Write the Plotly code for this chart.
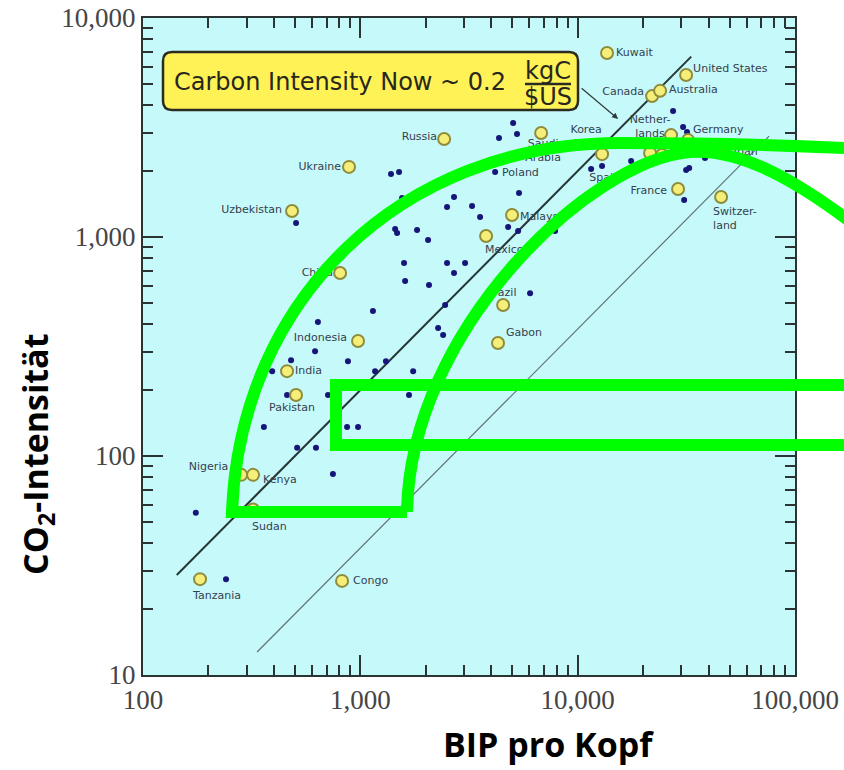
"""
Carbon intensity vs. GDP per capita (log-log), with the green overlay mark.
"""

import numpy as np
import plotly.graph_objects as go


# ---- data ----
# countries drawn as yellow circles
highlight_names = ["Kuwait", "United States", "Canada", "Australia", "Netherlands", "Germany",
                   "Japan", "Korea", "Spain", "Italy", "Saudi Arabia", "Russia", "Ukraine",
                   "Uzbekistan", "Malaysia", "Mexico", "China", "Brazil", "Gabon", "Indonesia",
                   "India", "Pakistan", "Nigeria", "Kenya", "Sudan", "Tanzania", "Congo",
                   "France", "Switzerland"]
highlight_gdp = [13650, 31550, 22000, 23950, 26900, 32200,
                 44260, 12950, 21530, 24430, 6790, 2430, 887,
                 485, 4990, 3790, 807, 4540, 4300, 976,
                 460, 506, 283, 321, 321, 183, 824,
                 28970, 45700]
highlight_co2 = [6920, 5490, 4400, 4650, 2920, 2770,
                 2470, 2390, 2420, 2370, 2985, 2800, 2090,
                 1315, 1260, 1010, 685, 489, 328, 335,
                 244, 190, 82, 82, 57, 27.4, 26.9,
                 1657, 1523]

# small blue dots that carry a label
labelled_dot_names = ["Poland"]
labelled_dot_gdp = [4170]
labelled_dot_co2 = [1980]

# the remaining unlabelled blue dots
other_gdp = [506, 1384, 1507, 1556, 2698, 2506, 3266, 3556, 1446, 1476,
             1824, 2050, 1589, 2506, 3034, 2698, 1607, 2070, 5047, 5260,
             4346, 5372, 4786, 5321, 7870, 6040, 1143, 638, 2455, 2280,
             2404, 619, 480, 877, 1312, 393, 1169, 1750, 460, 710,
             1675, 301, 360, 869, 976, 512, 625, 748, 175, 241,
             27480, 30550, 31850, 17620, 11530, 12950, 31550, 32590, 30900, 38550]
other_co2 = [1159, 1941, 1982, 1507, 1523, 1371, 1386, 1233, 1089, 1042,
             1076, 969, 760, 760, 760, 685, 630, 604, 3319, 2951,
             2831, 1589, 1112, 1064, 1064, 554, 459, 409, 489, 384,
             357, 301, 274, 271, 271, 244, 244, 244, 190, 190,
             190, 135.5, 135.5, 135.5, 135.5, 109, 109, 82.8, 55, 27.4,
             3758, 3177, 3013, 2223, 2046, 2107, 2023, 2066, 1476, 2296]

# reference lines: CO2 = intensity * GDP
now_line_gdp = [143, 33300]
now_intensity = 0.2
low_line_gdp = [335, 76000]
low_intensity = 0.038

x_tick_vals = [100, 1000, 10000, 100000]
x_tick_text = ["100", "1,000", "10,000", "100,000"]
y_tick_vals = [10, 100, 1000, 10000]
y_tick_text = ["10", "100", "1,000", "10,000"]


# ---- page geometry ----
W, H = 844, 770
M_L, M_R, M_T, M_B = 143, 49, 18, 95
PLOT_W = W - M_L - M_R
PLOT_H = H - M_T - M_B
DEC_X = PLOT_W / 3.0   # pixels per decade
DEC_Y = PLOT_H / 3.0

GREEN = "#00ff00"
LABEL_FONT = dict(family="DejaVu Sans", size=11, color="#34414f")

# label placement: text, side of the point, pixel offset (dx right, dy down)
label_layout = {
    "Kuwait": ("Kuwait", "right", 9, 0),
    "United States": ("United States", "right", 7, -6),
    "Canada": ("Canada", "left", -8, -4),
    "Australia": ("Australia", "right", 9, -1),
    "Netherlands": ("Nether-<br>lands", "center", -21, -8),
    "Germany": ("Germany", "right", 5, -10),
    "Japan": ("Japan", "right", 9, 1),
    "Korea": ("Korea<br>Rep.", "center", -16, -17),
    "Spain": ("Spain", "left", -30, 25),
    "Saudi Arabia": ("Saudi<br>Arabia", "center", 2, 18),
    "Russia": ("Russia", "left", -7, -2),
    "Ukraine": ("Ukraine", "left", -8, 0),
    "Uzbekistan": ("Uzbekistan", "left", -10, -1),
    "Poland": ("Poland", "right", 7, 1),
    "Malaysia": ("Malaysia", "right", 8, 2),
    "Mexico": ("Mexico", "right", -1, 14),
    "China": ("China", "left", -7, 0),
    "Brazil": ("Brazil", "center", -2, -12),
    "Gabon": ("Gabon", "right", 8, -10),
    "Indonesia": ("Indonesia", "left", -11, -3),
    "India": ("India", "right", 8, 0),
    "Pakistan": ("Pakistan", "center", -4, 13),
    "Nigeria": ("Nigeria", "left", -13, -8),
    "Kenya": ("Kenya", "right", 10, 5),
    "Sudan": ("Sudan", "right", -1, 18),
    "Tanzania": ("Tanzania", "right", -7, 17),
    "Congo": ("Congo", "right", 11, 0),
    "France": ("France", "left", -11, 2),
    "Switzerland": ("Switzer-<br>land", "right", -8, 22),
}
SIDE_TO_POS = {"right": "middle right", "left": "middle left", "center": "middle center"}


def to_paper(px, py):
    """Page pixel -> paper coordinates."""
    return (px - M_L) / PLOT_W, (H - M_B - py) / PLOT_H


def svg_path(cmds):
    """Build a paper-coordinate SVG path from (command, [pixel points]) pairs."""
    parts = []
    for cmd, pts in cmds:
        coords = []
        for px, py in pts:
            x, y = to_paper(px, py)
            coords.append(f"{x:.4f},{y:.4f}")
        parts.append(cmd + " " + " ".join(coords))
    return " ".join(parts)


def rounded_box(x0, y0, x1, y1, r):
    return svg_path([
        ("M", [(x0 + r, y0)]), ("L", [(x1 - r, y0)]), ("Q", [(x1, y0), (x1, y0 + r)]),
        ("L", [(x1, y1 - r)]), ("Q", [(x1, y1), (x1 - r, y1)]),
        ("L", [(x0 + r, y1)]), ("Q", [(x0, y1), (x0, y1 - r)]),
        ("L", [(x0, y0 + r)]), ("Q", [(x0, y0), (x0 + r, y0)]), ("Z", []),
    ])


fig = go.Figure()

# reference lines
now_gdp = np.array(now_line_gdp, dtype=float)
low_gdp = np.array(low_line_gdp, dtype=float)
fig.add_trace(go.Scatter(x=now_gdp, y=now_intensity * now_gdp, mode="lines",
                         line=dict(color="#263636", width=2), hoverinfo="skip"))
fig.add_trace(go.Scatter(x=low_gdp, y=low_intensity * low_gdp, mode="lines",
                         line=dict(color="#5f7272", width=1.2), hoverinfo="skip"))

# points
fig.add_trace(go.Scatter(x=other_gdp + labelled_dot_gdp, y=other_co2 + labelled_dot_co2,
                         mode="markers",
                         marker=dict(size=6, color="#15157a"), hoverinfo="skip"))
fig.add_trace(go.Scatter(x=highlight_gdp, y=highlight_co2, mode="markers",
                         marker=dict(size=12, color="#f5ef7a",
                                     line=dict(color="#8f8c3c", width=2)),
                         text=highlight_names, hoverinfo="text"))

# country labels
all_names = highlight_names + labelled_dot_names
all_gdp = highlight_gdp + labelled_dot_gdp
all_co2 = highlight_co2 + labelled_dot_co2
for side in ["right", "left", "center"]:
    lx, ly, lt = [], [], []
    for name, g, c in zip(all_names, all_gdp, all_co2):
        if name not in label_layout:
            continue
        text, s, dx, dy = label_layout[name]
        if s != side:
            continue
        lx.append(g * 10 ** (dx / DEC_X))
        ly.append(c * 10 ** (-dy / DEC_Y))
        lt.append(text)
    fig.add_trace(go.Scatter(x=lx, y=ly, mode="text", text=lt,
                             textposition=SIDE_TO_POS[side],
                             textfont=LABEL_FONT, hoverinfo="skip"))

minor_vals = [m * 10 ** d for d in range(1, 5) for m in range(2, 10)]
axis_common = dict(
    type="log", showgrid=False, zeroline=False, automargin=False,
    ticks="inside", ticklen=20, tickwidth=1.5, tickcolor="#2a3434",
    showline=True, linewidth=2, linecolor="#2a3434", mirror="allticks",
    tickfont=dict(family="Liberation Serif", size=27, color="#454545"),
    minor=dict(tickvals=minor_vals, ticks="inside", ticklen=10, tickwidth=1.5,
               tickcolor="#2a3434", showgrid=False),
)

shapes = []
# callout box
shapes.append(dict(type="path", xref="paper", yref="paper", path=rounded_box(163, 52, 578, 110, 9),
                   fillcolor="#fff257", line=dict(color="#2b2b22", width=2.5), layer="above"))
fx0, fy = to_paper(525, 84)
fx1, _ = to_paper(571, 84)
shapes.append(dict(type="line", xref="paper", yref="paper", x0=fx0, x1=fx1, y0=fy, y1=fy,
                   line=dict(color="#2b2b22", width=2.5), layer="above"))

# green overlay mark
green = dict(type="path", xref="paper", yref="paper", layer="above",
             line=dict(color=GREEN, width=12))
shapes.append(dict(green, path=svg_path([
    ("M", [(407, 512)]), ("L", [(232, 512)]),
    ("C", [(240, 300), (400, 143), (620, 143)]),
    ("C", [(700, 143), (780, 144), (880, 150)]),
])))
shapes.append(dict(green, path=svg_path([
    ("M", [(407, 512)]),
    ("C", [(410, 330), (590, 160), (690, 152)]),
    ("C", [(740, 148), (800, 180), (880, 245)]),
])))
shapes.append(dict(green, path=svg_path([
    ("M", [(900, 385)]), ("L", [(336, 385)]), ("L", [(336, 445)]), ("L", [(900, 445)]),
])))

annotations = []
box_font = dict(family="DejaVu Sans", size=24, color="#27271c")
tx, ty = to_paper(172, 82)
annotations.append(dict(x=tx, y=ty, xref="paper", yref="paper", text="Carbon Intensity Now ~ 0.2",
                        showarrow=False, xanchor="left", yanchor="middle", font=box_font))
kx, ky = to_paper(548, 71)
annotations.append(dict(x=kx, y=ky, xref="paper", yref="paper", text="kgC", showarrow=False,
                        xanchor="center", yanchor="middle", font=box_font))
ux, uy = to_paper(548, 97)
annotations.append(dict(x=ux, y=uy, xref="paper", yref="paper", text="$US", showarrow=False,
                        xanchor="center", yanchor="middle", font=box_font))
# arrow from the box to the current-intensity line
annotations.append(dict(x=np.log10(15350), y=np.log10(3460), xref="x", yref="y", text="",
                        showarrow=True, arrowhead=2, arrowsize=1, arrowwidth=1.2,
                        arrowcolor="#2f3a3a", ax=-38, ay=-32))

# axis titles
title_font = dict(family="Open Sans", size=34, color="black")
xt, yt = to_paper(548, 744)
annotations.append(dict(x=xt, y=yt, xref="paper", yref="paper", text="<b>BIP pro Kopf</b>",
                        showarrow=False, xanchor="center", yanchor="middle", font=title_font))
xt, yt = to_paper(37, 455)
annotations.append(dict(x=xt, y=yt, xref="paper", yref="paper",
                        text="<b>CO<sub>2</sub>-Intensität</b>", textangle=-90,
                        showarrow=False, xanchor="center", yanchor="middle", font=title_font))

fig.update_layout(
    width=W, height=H,
    margin=dict(l=M_L, r=M_R, t=M_T, b=M_B),
    paper_bgcolor="white", plot_bgcolor="#c6f9f9",
    showlegend=False,
    xaxis=dict(axis_common, range=[2, 5], tickmode="array",
               tickvals=x_tick_vals, ticktext=x_tick_text),
    yaxis=dict(axis_common, range=[1, 4], tickmode="array",
               tickvals=y_tick_vals, ticktext=y_tick_text),
    shapes=shapes,
    annotations=annotations,
)

# the page's default body margin would shift the figure off the window
fig.write_html("out.html", config={"displayModeBar": False},
               post_script="document.body.style.margin = '0px';")
